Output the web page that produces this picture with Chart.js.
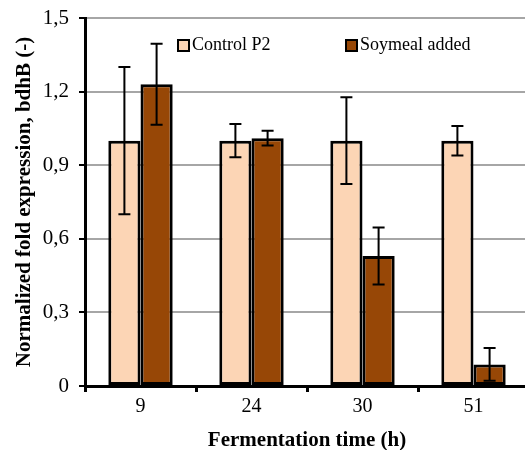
<!DOCTYPE html>
<html>
<head>
<meta charset="utf-8">
<script src="https://cdn.jsdelivr.net/npm/chart.js@4"></script>
<style>
  html, body { margin: 0; padding: 0; overflow: hidden; background: #fff; }
  #wrap { width: 529px; height: 450px; }
</style>
</head>
<body>
<div id="wrap"><canvas id="chartFold" width="529" height="450"></canvas></div>
<script>
const categories = ['9', '24', '30', '51'];
const controlValues = [1.0, 1.0, 1.0, 1.0];
const controlErrors = [0.30, 0.068, 0.177, 0.06];
const soyValues = [1.23, 1.01, 0.53, 0.088];
const soyErrors = [0.165, 0.03, 0.116, 0.067];
const yTicks = ['0', '0,3', '0,6', '0,9', '1,2', '1,5'];

const serif = "'Liberation Serif', 'Times New Roman', serif";

// error bars drawn from the scale
const errorBars = {
  id: 'errorBars',
  afterDatasetsDraw(chart) {
    const c = chart.ctx;
    const y = chart.scales.y;
    chart.data.datasets.forEach((ds, di) => {
      const meta = chart.getDatasetMeta(di);
      meta.data.forEach((bar, i) => {
        const v = ds.data[i], e = ds.errors[i];
        const top = y.getPixelForValue(v + e);
        const bot = y.getPixelForValue(v - e);
        c.save();
        c.strokeStyle = '#000';
        c.lineWidth = 2;
        c.beginPath();
        c.moveTo(bar.x, top); c.lineTo(bar.x, bot);
        c.moveTo(bar.x - 6, top); c.lineTo(bar.x + 6, top);
        c.moveTo(bar.x - 6, bot); c.lineTo(bar.x + 6, bot);
        c.stroke();
        c.restore();
      });
    });
  }
};

// legend inside the plot
const innerLegend = {
  id: 'innerLegend',
  afterDraw(chart) {
    const c = chart.ctx;
    const spots = [178, 346];
    chart.data.datasets.forEach((ds, di) => {
      const x = spots[di], yy = 40;
      c.save();
      c.fillStyle = ds.backgroundColor;
      c.fillRect(x, yy, 11, 11);
      c.strokeStyle = '#000';
      c.lineWidth = 2;
      c.strokeRect(x, yy, 11, 11);
      c.fillStyle = '#000';
      c.font = '18px ' + serif;
      c.textBaseline = 'middle';
      c.fillText(ds.label, x + 14, yy + 5);
      c.restore();
    });
  }
};

const ctx = document.getElementById('chartFold');

new Chart(ctx, {
  type: 'bar',
  data: {
    labels: categories,
    datasets: [{
      label: 'Control P2',
      data: controlValues,
      errors: controlErrors,
      backgroundColor: '#FCD5B5',
      borderColor: '#000',
      borderWidth: 3,
      borderSkipped: false
    }, {
      label: 'Soymeal added',
      data: soyValues,
      errors: soyErrors,
      backgroundColor: '#974706',
      borderColor: '#000',
      borderWidth: 3,
      borderSkipped: false
    }]
  },
  options: {
    responsive: false,
    animation: false,
    layout: { padding: { top: 18, right: 0, left: 0, bottom: 0 } },
    datasets: { bar: { categoryPercentage: 0.58, barPercentage: 1 } },
    plugins: {
      legend: { display: false },
      tooltip: { enabled: false }
    },
    scales: {
      x: {
        afterFit(s) { s.height = 64; s.paddingLeft = 0; s.paddingRight = 0; },
        grid: { drawOnChartArea: false, drawTicks: true, tickLength: 6, tickColor: '#000', lineWidth: 3, offset: true },
        border: { color: '#000', width: 3 },
        ticks: { color: '#000', font: { family: serif, size: 20 }, padding: 3 },
        title: {
          display: true, text: 'Fermentation time (h)', color: '#000',
          font: { family: serif, size: 21, weight: 'bold' }, padding: { top: 0, bottom: -3 }
        }
      },
      y: {
        min: 0, max: 1.5,
        afterFit(s) { s.width = 85; s.paddingTop = 0; s.paddingBottom = 0; },
        afterBuildTicks(s) { s.ticks = yTicks.map((t, i) => ({ value: i * 0.3 })); },
        grid: { color: '#a6a6a6', lineWidth: 2, tickColor: '#000', tickLength: 6, tickWidth: 2 },
        border: { color: '#000', width: 3 },
        ticks: {
          color: '#000', font: { family: serif, size: 21 }, padding: 10,
          callback: (v, i) => yTicks[i]
        },
        title: {
          display: true, text: 'Normalized fold expression, bdhB (-)', color: '#000',
          font: { family: serif, size: 21, weight: 'bold' }, padding: { top: 12, bottom: 0 }
        }
      }
    }
  },
  plugins: [errorBars, innerLegend]
});
</script>
</body>
</html>
